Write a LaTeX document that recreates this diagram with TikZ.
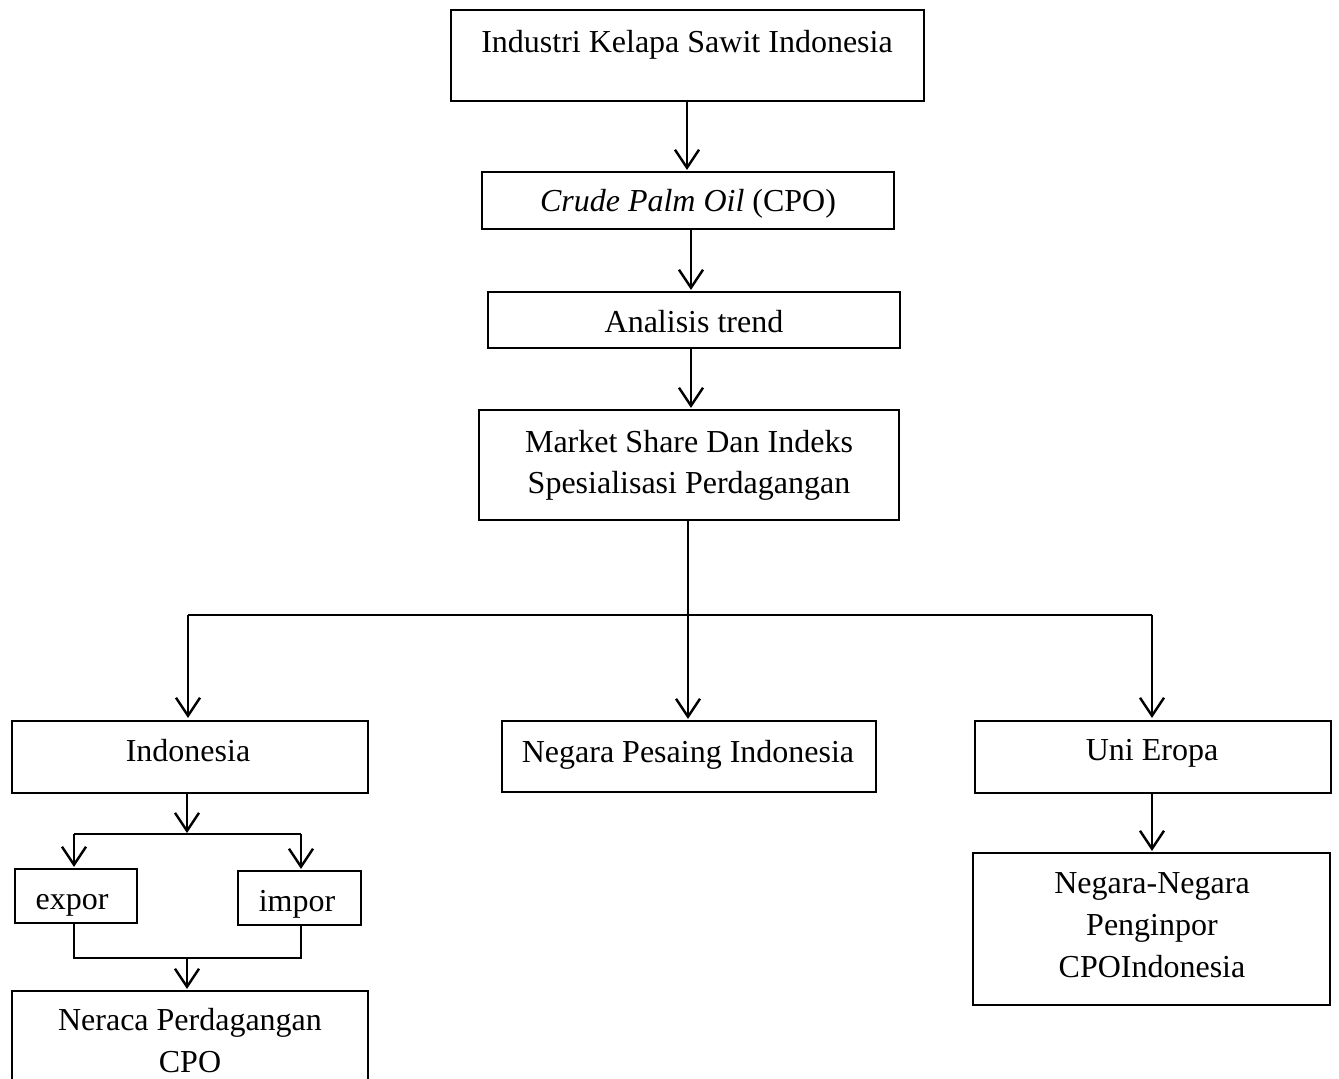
\documentclass[tikz,border=0pt]{standalone}
\usepackage{fontspec}
\setmainfont{Liberation Serif}
\usetikzlibrary{arrows.meta}
\begin{document}
\begin{tikzpicture}[x=1pt,y=-1pt,
  box/.style={draw, line width=2.2pt, inner sep=0pt, rectangle},
  txt/.style={anchor=base, inner sep=0pt, font=\fontsize{32}{41}\selectfont},
  conn/.style={line width=2.4pt},
  arr/.style={line width=2.4pt, -{Straight Barb[length=18pt,width=24pt]}}]
\useasboundingbox (0,0) rectangle (1339,1079);
\clip (0,0) rectangle (1339,1079);
% boxes
\node[box, minimum width=473pt, minimum height=91pt] (top) at (687.5,55.5) {};
\node[box, minimum width=412pt, minimum height=57pt] (cpo) at (688,200.5) {};
\node[box, minimum width=412pt, minimum height=56pt] (ana) at (694,320) {};
\node[box, minimum width=420pt, minimum height=110pt] (mkt) at (689,465) {};
\node[box, minimum width=356pt, minimum height=72pt] (indo) at (190,757) {};
\node[box, minimum width=374pt, minimum height=71pt] (pes) at (689,756.5) {};
\node[box, minimum width=356pt, minimum height=72pt] (uni) at (1153,757) {};
\node[box, minimum width=357pt, minimum height=152pt] (neg) at (1151.5,929) {};
\node[box, minimum width=122pt, minimum height=54pt] (exp) at (76,896) {};
\node[box, minimum width=123pt, minimum height=54pt] (imp) at (299.5,898) {};
\node[box, minimum width=356pt, minimum height=109pt] (ner) at (190,1045.5) {};
% texts
\node[txt] (t1) at (687,52) {Industri Kelapa Sawit Indonesia};
\node[txt] (t2) at (688,211) {\textit{Crude Palm Oil} (CPO)};
\node[txt] (t3) at (694,332) {Analisis trend};
\node[txt] (t4a) at (689,452) {Market Share Dan Indeks};
\node[txt] (t4b) at (689,493) {Spesialisasi Perdagangan};
\node[txt] (t5) at (188,761) {Indonesia};
\node[txt] (t6) at (688,762) {Negara Pesaing Indonesia};
\node[txt] (t7) at (1152,760) {Uni Eropa};
\node[txt] (t8a) at (1152,893) {Negara-Negara};
\node[txt] (t8b) at (1152,935) {Penginpor};
\node[txt] (t8c) at (1152,977) {CPOIndonesia};
\node[txt] (t9) at (72,909) {expor};
\node[txt] (t10) at (297,911) {impor};
\node[txt] (t11a) at (190,1030) {Neraca Perdagangan};
\node[txt] (t11b) at (190,1072) {CPO};
% junction coordinates
\coordinate (a1) at (687,101);
\coordinate (a2) at (691,229);
\coordinate (a3) at (691,348);
\coordinate (m1) at (688,520);
\coordinate (hL) at (188,615);
\coordinate (hM) at (688,615);
\coordinate (hR) at (1152,615);
\coordinate (i1) at (187,793);
\coordinate (j1) at (187,834);
\coordinate (jL) at (74,834);
\coordinate (jR) at (301,834);
\coordinate (k1) at (74,923);
\coordinate (k2) at (74,958);
\coordinate (k3) at (301,958);
\coordinate (k4) at (301,925);
\coordinate (kM) at (187,958);
% connectors
\draw[arr, shorten >=1pt] (a1) -- (a1 |- cpo.north);
\draw[arr, shorten >=1pt] (a2) -- (a2 |- ana.north);
\draw[arr, shorten >=1pt] (a3) -- (a3 |- mkt.north);
\draw[arr, shorten >=1pt] (m1) -- (m1 |- pes.north);
\draw[conn] (hL) -- (hR);
\draw[arr, shorten >=2pt] (hL) -- (hL |- indo.north);
\draw[arr, shorten >=2pt] (hR) -- (hR |- uni.north);
\draw[arr, shorten >=1pt] (i1) -- (j1);
\draw[conn] (jL) -- (jR);
\draw[arr, shorten >=1pt] (jL) -- (jL |- exp.north);
\draw[arr, shorten >=1pt] (jR) -- (jR |- imp.north);
\draw[conn] (k1) -- (k2) -- (k3) -- (k4);
\draw[arr, shorten >=1pt] (kM) -- (kM |- ner.north);
\draw[arr, shorten >=1pt] (uni.south -| hR) -- (hR |- neg.north);
\end{tikzpicture}
\end{document}
